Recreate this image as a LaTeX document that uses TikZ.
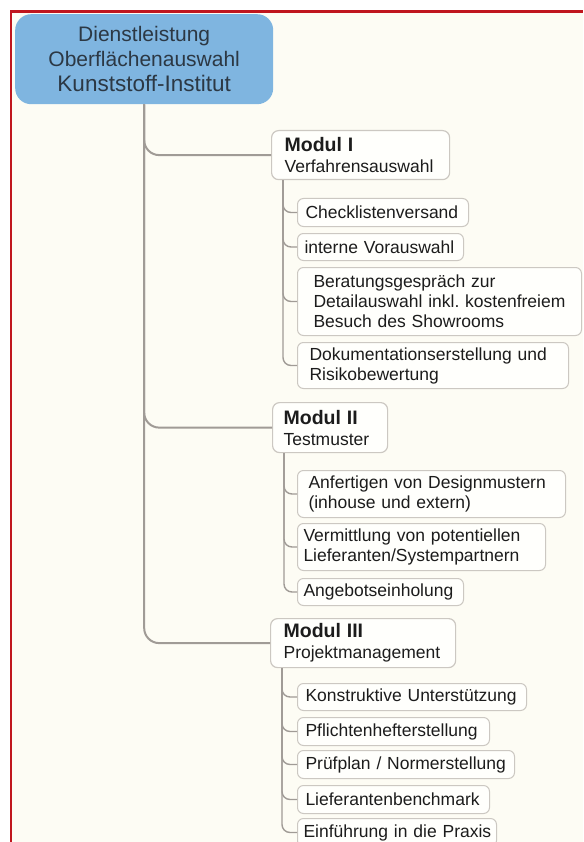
\documentclass[tikz,border=0pt]{standalone}
\usepackage{fontspec}
\setmainfont{Liberation Sans}
\frenchspacing
\definecolor{rootblue}{RGB}{127,181,224}
\definecolor{roottext}{RGB}{44,56,68}
\definecolor{cream}{RGB}{253,252,244}
\definecolor{framered}{RGB}{192,22,30}
\definecolor{boxline}{RGB}{204,200,194}
\definecolor{boxfill}{RGB}{255,255,252}
\definecolor{linegray}{RGB}{160,155,150}
\definecolor{txt}{RGB}{28,28,28}
\tikzset{
  rootbox/.style={fill=rootblue, rounded corners=16pt, minimum width=258pt,
    minimum height=90pt, align=center, text=roottext, inner sep=0pt,
    anchor=north west, font=\fontsize{21}{25}\selectfont},
  modbox/.style={draw=boxline, fill=boxfill, line width=1.2pt, rounded corners=7pt,
    inner ysep=0pt, align=left, text=txt, anchor=north west,
    font=\fontsize{17.5}{21}\selectfont},
  leafbox/.style={draw=boxline, fill=boxfill, line width=1pt, rounded corners=6pt,
    inner ysep=0pt, align=left, text=txt, anchor=north west,
    font=\fontsize{17.5}{20}\selectfont},
  trunk/.style={draw=linegray, line width=2pt, rounded corners=15pt},
  twig/.style={draw=linegray, line width=1.4pt, rounded corners=8pt},
}
\newcommand{\modtitle}[1]{{\fontsize{19.5}{21}\selectfont\bfseries #1}}
\newcommand{\lin}[1]{\mbox{#1}}
\begin{document}
\begin{tikzpicture}[x=1pt,y=-1pt]
\useasboundingbox (0,0) rectangle (583,842);
\fill[white] (0,0) rectangle (583,842);
\fill[cream] (11,12) rectangle (583,842);
\draw[framered, line width=2.5pt] (11.2,842) -- (11.2,11.7) -- (583,11.7);

% root
\node[rootbox] (root) at (15,14)
  {Dienstleistung\\Oberflächenauswahl\\{\fontsize{22.5}{26}\selectfont Kunststoff-Institut}};

% modules
\node[modbox, text width=152pt, inner xsep=13pt, minimum height=49pt] (m1) at (271,130)
  {\modtitle{Modul I}\\\lin{Verfahrensauswahl}};
\node[modbox, text width=93pt, inner xsep=11pt, minimum height=50pt] (m2) at (272,402)
  {\modtitle{Modul II}\\\lin{Testmuster}};
\node[modbox, text width=159pt, inner xsep=13pt, minimum height=49pt] (m3) at (270,618)
  {\modtitle{Modul III}\\\lin{Projektmanagement}};

% Modul I children
\node[leafbox, text width=155pt, inner xsep=8pt, minimum height=28pt] (c1) at (297,198)
  {\lin{Checklistenversand}};
\node[leafbox, text width=152pt, inner xsep=7pt, minimum height=27pt] (c2) at (297,233)
  {\lin{interne Vorauswahl}};
\node[leafbox, text width=252pt, inner xsep=16pt, minimum height=68pt] (c3) at (297,267)
  {\lin{Beratungsgespräch zur}\\\lin{Detailauswahl inkl. kostenfreiem}\\\lin{Besuch des Showrooms}};
\node[leafbox, text width=247pt, inner xsep=12pt, minimum height=46pt] (c4) at (297,342)
  {\lin{Dokumentationserstellung und}\\\lin{Risikobewertung}};

% Modul II children
\node[leafbox, text width=246pt, inner xsep=11pt, minimum height=47pt] (d1) at (297,470)
  {\lin{Anfertigen von Designmustern}\\\lin{(inhouse und extern)}};
\node[leafbox, text width=236pt, inner xsep=6pt, minimum height=47pt] (d2) at (297,523)
  {\lin{Vermittlung von potentiellen}\\\lin{Lieferanten/Systempartnern}};
\node[leafbox, text width=154pt, inner xsep=6pt, minimum height=27pt] (d3) at (297,578)
  {\lin{Angebotseinholung}};

% Modul III children
\node[leafbox, text width=213pt, inner xsep=8pt, minimum height=27pt] (e1) at (297,683)
  {\lin{Konstruktive Unterstützung}};
\node[leafbox, text width=176pt, inner xsep=8pt, minimum height=28pt] (e2) at (297,717)
  {\lin{Pflichtenhefterstellung}};
\node[leafbox, text width=201pt, inner xsep=8pt, minimum height=28pt] (e3) at (297,750)
  {\lin{Prüfplan / Normerstellung}};
\node[leafbox, text width=176pt, inner xsep=8pt, minimum height=28pt] (e4) at (297,785)
  {\lin{Lieferantenbenchmark}};
\node[leafbox, text width=187pt, inner xsep=6pt, minimum height=28pt] (e5) at (297,818)
  {\lin{Einführung in die Praxis}};

% connectors
\draw[trunk] (root.south) |- (m3.west);
\draw[trunk] (root.south) |- (m2.west);
\draw[trunk] (root.south) |- (m1.west);

\coordinate (m1s) at ([xshift=12pt]m1.south west);
\coordinate (m2s) at ([xshift=12pt]m2.south west);
\coordinate (m3s) at ([xshift=12pt]m3.south west);
\foreach \c in {c1,c2,c3,c4} \draw[twig] (m1s) |- (\c.west);
\foreach \c in {d1,d2,d3} \draw[twig] (m2s) |- (\c.west);
\foreach \c in {e1,e2,e3,e4,e5} \draw[twig] (m3s) |- (\c.west);
\end{tikzpicture}
\end{document}
